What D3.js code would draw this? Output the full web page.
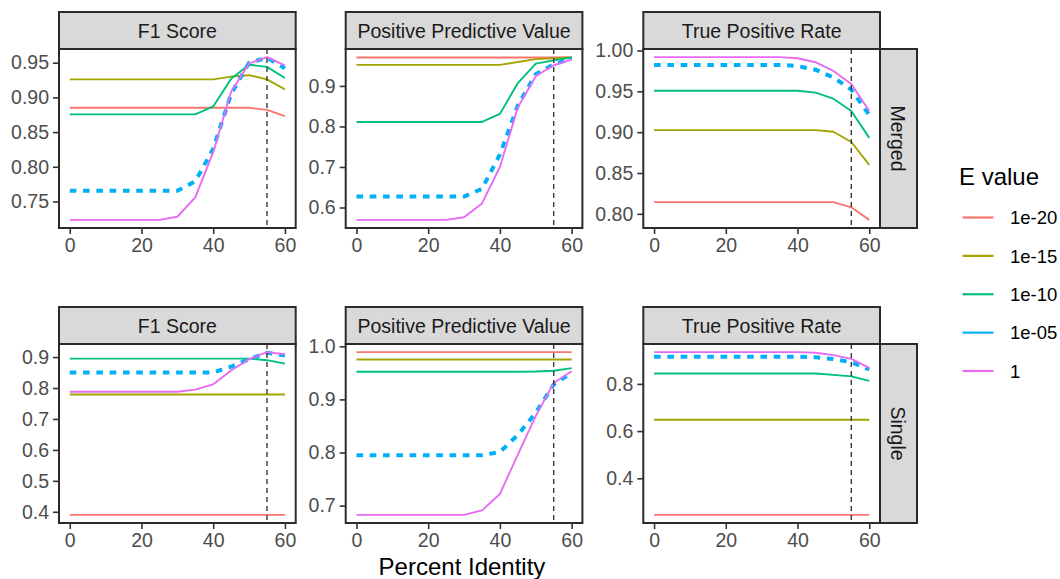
<!DOCTYPE html>
<html>
<head>
<meta charset="utf-8">
<script src="https://cdn.jsdelivr.net/npm/d3@7"></script>
<style>
  html, body { margin: 0; padding: 0; background: #ffffff; }
  svg { display: block; font-family: "Liberation Sans", Arial, Helvetica, sans-serif; }
</style>
</head>
<body>
<script>
// ---- data -------------------------------------------------------------
const percentIdentity = [0, 5, 10, 15, 20, 25, 30, 35, 40, 45, 50, 55, 60];
const eValues = ["1e-20", "1e-15", "1e-10", "1e-05", "1"];
const eColors = ["#F8766D", "#A3A500", "#00BF7D", "#00B0F6", "#E76BF3"];
const metrics = ["F1 Score", "Positive Predictive Value", "True Positive Rate"];
const modes = ["Merged", "Single"];
const cutoff = 55;

// one row per E value, in the order of eValues
const f1Merged = [
  [0.885, 0.885, 0.885, 0.885, 0.885, 0.885, 0.885, 0.885, 0.885, 0.885, 0.885, 0.882, 0.873],
  [0.926, 0.926, 0.926, 0.926, 0.926, 0.926, 0.926, 0.926, 0.926, 0.930, 0.932, 0.926, 0.9115],
  [0.8755, 0.8755, 0.8755, 0.8755, 0.8755, 0.8755, 0.8755, 0.8755, 0.887, 0.927, 0.947, 0.944, 0.928],
  [0.7655, 0.7655, 0.7655, 0.7655, 0.7655, 0.7655, 0.7655, 0.779, 0.826, 0.905, 0.950, 0.957, 0.942],
  [0.7235, 0.7235, 0.7235, 0.7235, 0.7235, 0.7235, 0.728, 0.756, 0.821, 0.908, 0.949, 0.958, 0.946]
];
const ppvMerged = [
  [0.970, 0.970, 0.970, 0.970, 0.970, 0.970, 0.970, 0.970, 0.970, 0.970, 0.970, 0.970, 0.971],
  [0.9518, 0.9518, 0.9518, 0.9518, 0.9518, 0.9518, 0.9518, 0.9518, 0.9518, 0.959, 0.966, 0.968, 0.970],
  [0.811, 0.811, 0.811, 0.811, 0.811, 0.811, 0.811, 0.811, 0.831, 0.907, 0.955, 0.963, 0.970],
  [0.627, 0.627, 0.627, 0.627, 0.627, 0.627, 0.627, 0.646, 0.731, 0.852, 0.929, 0.953, 0.968],
  [0.5695, 0.5695, 0.5695, 0.5695, 0.5695, 0.5695, 0.576, 0.610, 0.700, 0.847, 0.924, 0.951, 0.965]
];
const tprMerged = [
  [0.8143, 0.8143, 0.8143, 0.8143, 0.8143, 0.8143, 0.8143, 0.8143, 0.8143, 0.8143, 0.8143, 0.808, 0.7926],
  [0.9025, 0.9025, 0.9025, 0.9025, 0.9025, 0.9025, 0.9025, 0.9025, 0.9025, 0.9025, 0.9005, 0.888, 0.860],
  [0.9508, 0.9508, 0.9508, 0.9508, 0.9508, 0.9508, 0.9508, 0.9508, 0.9508, 0.9485, 0.941, 0.926, 0.893],
  [0.9824, 0.9824, 0.9824, 0.9824, 0.9824, 0.9824, 0.9824, 0.9824, 0.981, 0.9765, 0.967, 0.952, 0.921],
  [0.9919, 0.9919, 0.9919, 0.9919, 0.9919, 0.9919, 0.9919, 0.9919, 0.9906, 0.9857, 0.975, 0.959, 0.926]
];
const f1Single = [
  [0.390, 0.390, 0.390, 0.390, 0.390, 0.390, 0.390, 0.390, 0.390, 0.390, 0.390, 0.390, 0.390],
  [0.779, 0.779, 0.779, 0.779, 0.779, 0.779, 0.779, 0.779, 0.779, 0.779, 0.779, 0.779, 0.779],
  [0.895, 0.895, 0.895, 0.895, 0.895, 0.895, 0.895, 0.895, 0.895, 0.895, 0.895, 0.890, 0.879],
  [0.8505, 0.8505, 0.8505, 0.8505, 0.8505, 0.8505, 0.8505, 0.8505, 0.8505, 0.869, 0.893, 0.914, 0.905],
  [0.788, 0.788, 0.788, 0.788, 0.788, 0.788, 0.788, 0.795, 0.812, 0.857, 0.893, 0.916, 0.909]
];
const ppvSingle = [
  [0.989, 0.989, 0.989, 0.989, 0.989, 0.989, 0.989, 0.989, 0.989, 0.989, 0.989, 0.989, 0.989],
  [0.975, 0.975, 0.975, 0.975, 0.975, 0.975, 0.975, 0.975, 0.975, 0.975, 0.975, 0.975, 0.975],
  [0.952, 0.952, 0.952, 0.952, 0.952, 0.952, 0.952, 0.952, 0.952, 0.952, 0.9525, 0.954, 0.959],
  [0.795, 0.795, 0.795, 0.795, 0.795, 0.795, 0.795, 0.795, 0.801, 0.833, 0.875, 0.928, 0.950],
  [0.6826, 0.6826, 0.6826, 0.6826, 0.6826, 0.6826, 0.6826, 0.691, 0.722, 0.796, 0.869, 0.931, 0.953]
];
const tprSingle = [
  [0.245, 0.245, 0.245, 0.245, 0.245, 0.245, 0.245, 0.245, 0.245, 0.245, 0.245, 0.245, 0.245],
  [0.648, 0.648, 0.648, 0.648, 0.648, 0.648, 0.648, 0.648, 0.648, 0.648, 0.648, 0.648, 0.648],
  [0.844, 0.844, 0.844, 0.844, 0.844, 0.844, 0.844, 0.844, 0.844, 0.844, 0.838, 0.832, 0.813],
  [0.915, 0.915, 0.915, 0.915, 0.915, 0.915, 0.915, 0.915, 0.915, 0.913, 0.905, 0.892, 0.861],
  [0.9345, 0.9345, 0.9345, 0.9345, 0.9345, 0.9345, 0.9345, 0.9345, 0.9345, 0.932, 0.922, 0.906, 0.868]
];

// tick labels
const xTickLabels = ["0", "20", "40", "60"];
const f1MergedTicks = ["0.75", "0.80", "0.85", "0.90", "0.95"];
const ppvMergedTicks = ["0.6", "0.7", "0.8", "0.9"];
const tprMergedTicks = ["0.80", "0.85", "0.90", "0.95", "1.00"];
const f1SingleTicks = ["0.4", "0.5", "0.6", "0.7", "0.8", "0.9"];
const ppvSingleTicks = ["0.7", "0.8", "0.9", "1.0"];
const tprSingleTicks = ["0.4", "0.6", "0.8"];

const panelValues = [[f1Merged, ppvMerged, tprMerged], [f1Single, ppvSingle, tprSingle]];
const panelTicks = [[f1MergedTicks, ppvMergedTicks, tprMergedTicks], [f1SingleTicks, ppvSingleTicks, tprSingleTicks]];

// ---- layout -----------------------------------------------------------
const W = 1060, H = 579;
const colLeft = [59, 345.7, 643.3];
const panelW = 236.7;
const stripTop = [12, 307];
const stripH = 37;
const panelH = 179;
const rightStripW = 37;
const border = "#2b2b2b";
const tickColor = "#333333";
const axisTextColor = "#4D4D4D";
const stripTextColor = "#1A1A1A";
const stripFill = "#D9D9D9";
const fontSmall = 19.5;

const svg = d3.select("body").append("svg")
  .attr("width", W).attr("height", H)
  .attr("viewBox", `0 0 ${W} ${H}`);

// ggplot-style 5% range expansion
function expand(ext, mult = 0.05) {
  const pad = (ext[1] - ext[0]) * mult;
  return [ext[0] - pad, ext[1] + pad];
}

const xDomain = expand(d3.extent(percentIdentity));

modes.forEach((mode, r) => {
  metrics.forEach((metric, c) => {
    const left = colLeft[c];
    const top = stripTop[r] + stripH;
    const series = panelValues[r][c];
    const ticks = panelTicks[r][c].map(Number);
    const decimals = panelTicks[r][c][0].split(".")[1].length;

    const x = d3.scaleLinear().domain(xDomain).range([left, left + panelW]);
    const y = d3.scaleLinear().domain(expand(d3.extent(series.flat()))).range([top + panelH, top]);

    const g = svg.append("g");

    // panel background
    g.append("rect")
      .attr("x", left).attr("y", top).attr("width", panelW).attr("height", panelH)
      .attr("fill", "#ffffff");

    // strip on top
    g.append("rect")
      .attr("x", left).attr("y", stripTop[r]).attr("width", panelW).attr("height", stripH)
      .attr("fill", stripFill).attr("stroke", border).attr("stroke-width", 2);
    g.append("text")
      .attr("x", left + panelW / 2).attr("y", stripTop[r] + stripH / 2)
      .attr("dy", "0.36em")
      .attr("text-anchor", "middle")
      .attr("font-size", fontSmall)
      .attr("fill", stripTextColor)
      .text(metric);

    // lines, one per E value
    const line = d3.line()
      .x((d, i) => x(percentIdentity[i]))
      .y(d => y(d));

    series.forEach((vals, k) => {
      const isDashed = eValues[k] === "1e-05";
      g.append("path")
        .datum(vals)
        .attr("d", line)
        .attr("fill", "none")
        .attr("stroke", eColors[k])
        .attr("stroke-width", isDashed ? 4 : 1.9)
        .attr("stroke-dasharray", isDashed ? "6.6 6.7" : null)
        .attr("stroke-linejoin", "round");
    });

    // identity cutoff
    g.append("line")
      .attr("x1", x(cutoff)).attr("x2", x(cutoff))
      .attr("y1", top).attr("y2", top + panelH)
      .attr("stroke", "#3a3a3a")
      .attr("stroke-width", 1.4)
      .attr("stroke-dasharray", "5 4");

    // panel border
    g.append("rect")
      .attr("x", left).attr("y", top).attr("width", panelW).attr("height", panelH)
      .attr("fill", "none").attr("stroke", border).attr("stroke-width", 2);

    // axes
    const yAxis = d3.axisLeft(y)
      .tickValues(ticks)
      .tickFormat(d3.format(`.${decimals}f`))
      .tickSize(6).tickPadding(4);
    const yg = g.append("g").attr("transform", `translate(${left},0)`).call(yAxis);

    const xAxis = d3.axisBottom(x)
      .tickValues(xTickLabels.map(Number))
      .tickFormat((d, i) => xTickLabels[i])
      .tickSize(6).tickPadding(4);
    const xg = g.append("g").attr("transform", `translate(0,${top + panelH})`).call(xAxis);

    [yg, xg].forEach(a => {
      a.select(".domain").remove();
      a.selectAll(".tick line").attr("stroke", tickColor).attr("stroke-width", 1.6);
      a.selectAll(".tick text")
        .attr("fill", axisTextColor)
        .attr("font-size", fontSmall)
        .attr("font-family", "Liberation Sans, Arial, sans-serif");
    });

    // row strip on the right
    if (c === metrics.length - 1) {
      const sx = left + panelW;
      g.append("rect")
        .attr("x", sx).attr("y", top).attr("width", rightStripW).attr("height", panelH)
        .attr("fill", stripFill).attr("stroke", border).attr("stroke-width", 2);
      g.append("text")
        .attr("transform", `translate(${sx + rightStripW / 2},${top + panelH / 2}) rotate(90)`)
        .attr("dy", "0.36em")
        .attr("text-anchor", "middle")
        .attr("font-size", fontSmall)
        .attr("fill", stripTextColor)
        .text(mode);
    }
  });
});

// x axis title
svg.append("text")
  .attr("x", 462).attr("y", 575)
  .attr("text-anchor", "middle")
  .attr("font-size", 24)
  .attr("fill", "#000000")
  .text("Percent Identity");

// legend
const legend = svg.append("g");
legend.append("text")
  .attr("x", 959).attr("y", 185)
  .attr("font-size", 24)
  .attr("fill", "#000000")
  .text("E value");

const legendY = d3.scalePoint().domain(eValues).range([217.5, 371]);
eValues.forEach((e, k) => {
  const yy = legendY(e);
  legend.append("line")
    .attr("x1", 962.5).attr("x2", 993.5)
    .attr("y1", yy).attr("y2", yy)
    .attr("stroke", eColors[k]).attr("stroke-width", 2.2);
  legend.append("text")
    .attr("x", 1010).attr("y", yy)
    .attr("dy", "0.36em")
    .attr("font-size", 18.5)
    .attr("fill", "#000000")
    .text(e);
});
</script>
</body>
</html>
